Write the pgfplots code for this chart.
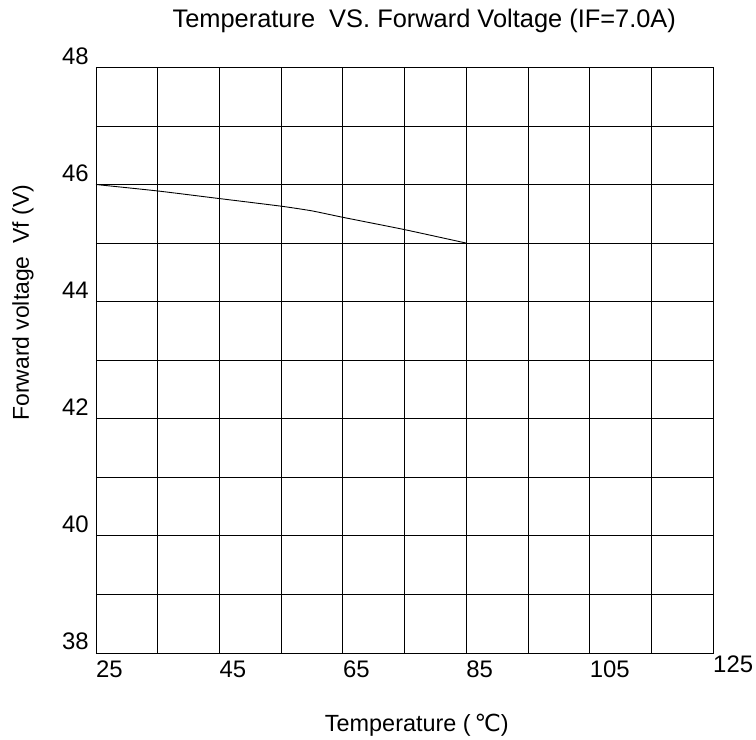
\documentclass[border=0pt]{standalone}
\usepackage{fontspec}
\setmainfont{Liberation Sans}
\newfontfamily\symfont{DejaVu Sans}
\usepackage{pgfplots}
\pgfplotsset{compat=1.18}

\begin{document}
\begin{tikzpicture}
% page = 756 x 740 px, axis box 617 x 585.6 px
\useasboundingbox (-96bp,-87bp) rectangle (660bp,653bp);
\begin{axis}[
    scale only axis,
    width=617bp, height=585.6bp,
    xmin=25, xmax=125, ymin=38, ymax=48,
    xtick={25,45,...,125},
    xticklabels={25,45,65,85,105,\raisebox{5bp}{125}},
    minor xtick={35,55,...,115},
    ytick={38,40,...,48},
    minor ytick={39,41,...,47},
    grid=both,
    grid style={black, line width=0.8pt},
    minor grid style={black, line width=0.8pt},
    axis line style={black, line width=0.8pt},
    major tick length=0pt, minor tick length=0pt,
    /pgf/number format/assume math mode=true,
    ticklabel style={font=\fontsize{24}{28}\selectfont, inner sep=0pt, text height=17bp, text depth=0pt},
    xticklabel style={anchor=north west, yshift=-7bp},
    yticklabel style={anchor=south east, xshift=-7bp, yshift=3bp},
    xlabel={Temperature (\,{\symfont ℃})},
    xlabel style={font=\fontsize{23.5}{27}\selectfont, at={(rel axis cs:0.52,0)}, anchor=center, yshift=-72bp},
    ylabel={Forward voltage\ \ Vf (V)},
    ylabel style={font=\fontsize{23}{27}\selectfont, at={(rel axis cs:0,0.598)}, anchor=center, yshift=73bp},
    clip=false,
]
\addplot[black, line width=0.9pt, smooth, tension=0.3] coordinates {
    (25,46.00) (35,45.89) (45,45.76) (55,45.63) (60,45.55) (65,45.44) (75,45.23) (85,45.00)
};
\node[anchor=base, font=\fontsize{25.5}{29}\selectfont] at (rel axis cs:0.532,1) [yshift=40bp]
    {Temperature\ \ VS. Forward Voltage (IF=7.0A)};
\end{axis}
\end{tikzpicture}
\end{document}
